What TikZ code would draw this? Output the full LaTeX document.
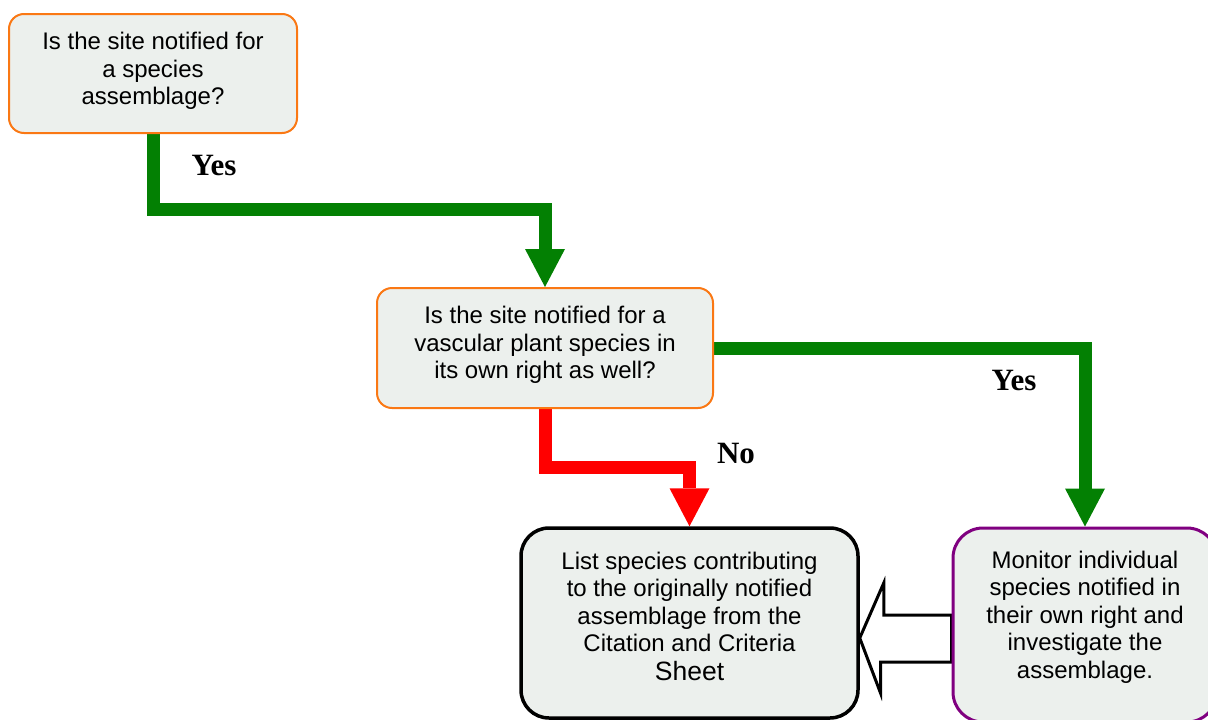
\documentclass[tikz,border=0pt]{standalone}
\usepackage{fontspec}
\setmainfont{Liberation Sans}
\newfontfamily\yesfont{Liberation Serif}
\usetikzlibrary{arrows.meta,backgrounds,calc}
\definecolor{boxfill}{RGB}{236,240,237}
\definecolor{gr}{RGB}{3,128,3}
\definecolor{rd}{RGB}{255,0,0}
\definecolor{orng}{RGB}{250,120,20}
\definecolor{purp}{RGB}{128,0,128}
\begin{document}
\begin{tikzpicture}[x=1pt,y=-1pt,
  box/.style={draw, fill=boxfill, rounded corners=#1, inner sep=0pt},
  obox/.style={box=15pt, draw=orng, line width=2pt},
  txt/.style={align=center, inner sep=0pt, font=\fontsize{24}{27.5}\selectfont},
  lbl/.style={font=\yesfont\bfseries\fontsize{31}{31}\selectfont, inner sep=0pt, anchor=base},
  conn/.style={line width=13pt, line join=miter, -{Triangle[width=40pt,length=38pt,line width=0pt]}},
  hollow/.style={draw=black, fill=white, line width=3pt, line join=miter}
]
\useasboundingbox (0,0) rectangle (1208,720);

% boxes
\node[obox, minimum width=288pt, minimum height=119pt] (b1) at (153,73.5) {};
\node[txt] (t1) at (153,71) {Is the site notified for\\a species\\assemblage?};

\node[obox, minimum width=336pt, minimum height=120pt] (b2) at (545,348) {};
\node[txt] (t2) at (545,345) {Is the site notified for a\\vascular plant species in\\its own right as well?};

\node[box=28pt, draw=black, line width=3.5pt, minimum width=337pt, minimum height=190pt] (b3) at (689.5,623) {};
\node[txt] (t3) at (689.5,616) {List species contributing\\to the originally notified\\assemblage from the\\Citation and Criteria\\[1pt]{\fontsize{26.5}{31}\selectfont Sheet}};

\node[box=30pt, draw=purp, line width=3pt, minimum width=264pt, minimum height=194pt] (b4) at (1085,625) {};
\node[txt] (t4) at (1085,617) {Monitor individual\\species notified in\\their own right and\\investigate the\\assemblage.};

% labels
\node[lbl] (y1) at (214,175) {Yes};
\node[lbl] (y2) at (1014,390) {Yes};
\node[lbl] (n1) at (736,463) {No};

% connectors
\begin{scope}[on background layer]
\draw[conn, color=gr] (b1.south) |- ($(b2.north)+(0,-78)$) -- (b2.north);
\draw[conn, color=gr] (b2.east) -| (b4.north);
\draw[conn, color=rd] (b2.south) |- ($(b3.north)+(0,-59)$) -- (b3.north);
\draw[hollow] ($(b3.east)+(0,15)$) coordinate (tip) -- ++(24,-55) -- ++(0,32)
  -- ($(b4.west)+(0,-10)$) -- ($(b4.west)+(0,37)$) -- ++(-71,0) -- ++(0,31) -- cycle;
\end{scope}
\end{tikzpicture}
\end{document}
